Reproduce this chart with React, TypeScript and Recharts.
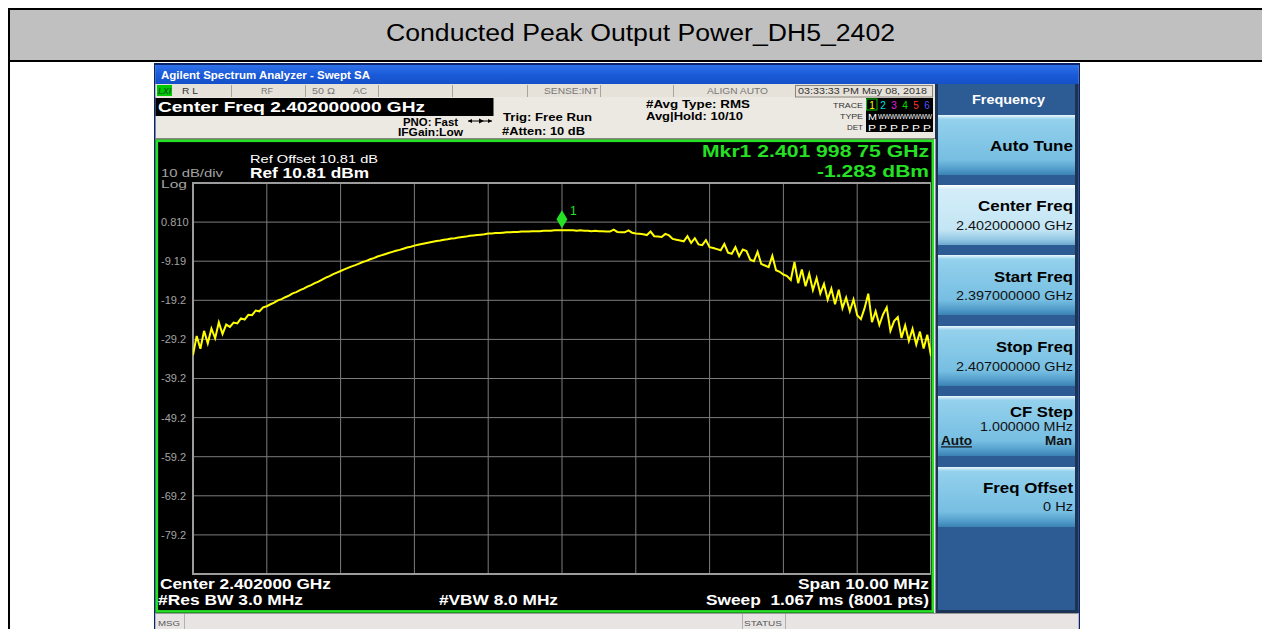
import React from 'react';
import { LineChart, Line, XAxis, YAxis, CartesianGrid, ReferenceDot, ReferenceArea } from 'recharts';

const TITLE = 'Conducted Peak Output Power_DH5_2402';
const START_MHZ = 2397;
const STEP_MHZ = 0.05;
const STOP_MHZ = 2407;

// Trace 1 (dBm), one value per 0.05 MHz from 2397 to 2407 MHz
const traceDbm = [
  -33.2, -28.3, -31.6, -27.0, -30.2, -26.4, -28.9, -24.8, -27.8, -25.4,
  -26.0, -24.9, -25.1, -23.8, -24.1, -22.9, -23.0, -21.8, -22.0, -21.0,
  -20.7, -20.2, -19.8, -19.2, -18.9, -18.4, -18.0, -17.4, -17.1, -16.6,
  -16.2, -15.7, -15.3, -14.8, -14.4, -13.9, -13.4, -13.0, -12.5, -12.1,
  -11.7, -11.3, -10.9, -10.5, -10.2, -9.8, -9.4, -9.1, -8.7, -8.4,
  -8.0, -7.7, -7.4, -7.1, -6.8, -6.5, -6.3, -6.0, -5.7, -5.5,
  -5.2, -5.0, -4.8, -4.6, -4.4, -4.2, -4.0, -3.9, -3.7, -3.6,
  -3.4, -3.3, -3.1, -3.0, -2.9, -2.7, -2.6, -2.5, -2.4, -2.3,
  -2.1, -2.1, -2.0, -2.0, -1.9, -1.8, -1.8, -1.7, -1.7, -1.6,
  -1.6, -1.6, -1.5, -1.5, -1.5, -1.4, -1.4, -1.4, -1.3, -1.3,
  -1.3,
  -1.3, -1.3, -1.3, -1.4, -1.3, -1.4, -1.4, -1.5, -1.4, -1.5,
  -1.5, -1.6, -1.6, -1.1, -1.7, -1.8, -1.8, -1.3, -1.9, -2.1,
  -2.2, -2.3, -2.5, -1.6, -2.8, -2.9, -3.0, -2.2, -2.6, -3.5,
  -3.7, -3.9, -4.1, -2.8, -4.5, -3.3, -4.9, -5.1, -3.8, -5.6,
  -5.8, -6.1, -6.4, -4.8, -7.0, -7.3, -5.6, -7.9, -6.2, -6.6,
  -8.8, -9.2, -6.8, -9.9, -10.3, -10.7, -7.8, -11.5, -11.9, -12.6,
  -13.0, -14.0, -9.4, -14.8, -11.3, -15.6, -12.4, -16.6, -13.5, -17.5,
  -15.0, -19.0, -16.2, -20.2, -16.5, -21.2, -18.5, -22.0, -19.0, -23.0,
  -24.0, -21.2, -17.5, -24.8, -22.0, -25.5, -22.8, -21.0, -27.0, -24.5,
  -23.5, -28.8, -25.6, -29.6, -26.5, -30.5, -27.2, -31.5, -28.0, -33.5,
];

const xTicks = [2397, 2398, 2399, 2400, 2401, 2402, 2403, 2404, 2405, 2406, 2407];
const yTicks = [10.81, 0.81, -9.19, -19.19, -29.19, -39.19, -49.19, -59.19, -69.19, -79.19, -89.19];
const yTickLabels = ['', '0.810', '-9.19', '-19.2', '-29.2', '-39.2', '-49.2', '-59.2', '-69.2', '-79.2', ''];
const markerFreq = 2401.99875;
const markerDbm = -1.283;

const chartData = traceDbm.map((v, i) => ({ f: +(START_MHZ + i * STEP_MHZ).toFixed(2), v }));

const FONT = "'Liberation Sans', Arial, sans-serif";
const GREEN = '#25e025';

function Tx(p: any) {
  const { x, y, s, w, c = '#000', b = false, it = false, u = false, children } = p;
  return (
    <text
      x={x}
      y={y}
      fontSize={s}
      textLength={w}
      lengthAdjust="spacingAndGlyphs"
      fill={c}
      fontWeight={b ? 700 : 400}
      fontStyle={it ? 'italic' : 'normal'}
      textDecoration={u ? 'underline' : undefined}
      fontFamily={FONT}
      style={{ whiteSpace: 'pre' }}
    >
      {children}
    </text>
  );
}

function renderYTick(props: any) {
  const { y, payload } = props;
  const idx = yTicks.findIndex((t) => Math.abs(t - payload.value) < 0.001);
  const label = idx >= 0 ? yTickLabels[idx] : '';
  return (
    <text x={4} y={y + 3.9} fill="#a4a4a4" fontSize={11} fontFamily={FONT}>
      {label}
    </text>
  );
}

function MarkerShape(props: any) {
  const { cx, cy } = props;
  return (
    <g>
      <polygon
        points={`${cx},${cy - 20} ${cx + 5.5},${cy - 11} ${cx},${cy - 2} ${cx - 5.5},${cy - 11}`}
        fill={GREEN}
      />
      <text x={cx + 8} y={cy - 15} fill={GREEN} fontSize={12} fontFamily={FONT}>
        1
      </text>
    </g>
  );
}

function Button({ y, label, value, sel, extra }: any) {
  return (
    <g>
      <rect x={938} y={y} width={137} height={60} fill={sel ? 'url(#btnSel)' : 'url(#btn)'} />
      {label}
      {value}
      {extra}
    </g>
  );
}

export default function App() {
  return (
    <div style={{ position: 'absolute', left: 0, top: 0, width: 1262, height: 629, background: '#fff', overflow: 'hidden' }}>
      <svg width={1262} height={629} style={{ position: 'absolute', left: 0, top: 0 }}>
        <defs>
          <linearGradient id="tb" x1="0" y1="0" x2="0" y2="1">
            <stop offset="0" stopColor="#2f72ea" />
            <stop offset="0.5" stopColor="#1b5bd9" />
            <stop offset="1" stopColor="#1450c8" />
          </linearGradient>
          <linearGradient id="btn" x1="0" y1="0" x2="0" y2="1">
            <stop offset="0" stopColor="#eaf7fc" />
            <stop offset="0.07" stopColor="#94d1ec" />
            <stop offset="0.75" stopColor="#76bee2" />
            <stop offset="0.9" stopColor="#529dcb" />
            <stop offset="1" stopColor="#3a82b4" />
          </linearGradient>
          <linearGradient id="btnSel" x1="0" y1="0" x2="0" y2="1">
            <stop offset="0" stopColor="#ffffff" />
            <stop offset="0.07" stopColor="#d4eef9" />
            <stop offset="0.75" stopColor="#c3e5f4" />
            <stop offset="0.9" stopColor="#96cae5" />
            <stop offset="1" stopColor="#6ea9cf" />
          </linearGradient>
        </defs>

        {/* page table frame */}
        <rect x={8} y={8} width={1254} height={2} fill="#000" />
        <rect x={8} y={8} width={2} height={621} fill="#000" />
        <rect x={10} y={10} width={1252} height={50} fill="#c0c0c0" />
        <rect x={10} y={60} width={1252} height={2} fill="#000" />
        <Tx x={386} y={41} s={23.5} w={509}>{TITLE}</Tx>

        {/* analyzer window */}
        <rect x={154} y={63} width={926} height={566} fill="#ece9e2" />
        <rect x={154} y={63} width={926} height={2} fill="#0a246a" />
        <rect x={154} y={63} width={1.5} height={566} fill="#0a246a" />
        <rect x={1078.5} y={63} width={1.5} height={566} fill="#0a246a" />
        <rect x={155.5} y={65} width={923} height={19} fill="url(#tb)" />
        <Tx x={161} y={79.3} s={10.5} w={209} c="#fff" b>Agilent Spectrum Analyzer - Swept SA</Tx>

        {/* status row */}
        <rect x={155.5} y={84} width={780} height={13} fill="#e6e2da" />
        <rect x={157} y={85} width={15} height={11} fill="#00c800" />
        <Tx x={158} y={94} s={8.5} w={13} c="#062" b it>LXI</Tx>
        <Tx x={182} y={94} s={9} w={16} c="#333">R L</Tx>
        <Tx x={261} y={94} s={9} w={12} c="#777">RF</Tx>
        <Tx x={312} y={94} s={9} w={23} c="#777">50 Ω</Tx>
        <Tx x={353} y={94} s={9} w={14} c="#777">AC</Tx>
        <Tx x={544} y={94} s={9} w={54} c="#777">SENSE:INT</Tx>
        <Tx x={707} y={94} s={9} w={61} c="#777">ALIGN AUTO</Tx>
        <Tx x={798} y={94} s={9} w={129} c="#333">03:33:33 PM May 08, 2018</Tx>
        {[231, 305, 378, 452, 527, 600, 673, 795].map((sx) => (
          <rect key={sx} x={sx} y={85} width={1} height={12} fill="#aaa49a" />
        ))}
        <rect x={795.5} y={85.5} width={137} height={11.5} fill="none" stroke="#8a857c" strokeWidth={1} />

        {/* header info */}
        <rect x={155.5} y={98} width={338} height={18} fill="#000" />
        <Tx x={158} y={112} s={15} w={267} c="#fff" b>Center Freq 2.402000000 GHz</Tx>
        <Tx x={403} y={125.5} s={10} w={55} b>PNO: Fast</Tx>
        <Tx x={398} y={136} s={10} w={65} b>IFGain:Low</Tx>
        <line x1={468} y1={121} x2={492} y2={121} stroke="#000" strokeWidth={1} />
        <polygon points="468,121 472,119 472,123" fill="#000" />
        <polygon points="492,121 488,119 488,123" fill="#000" />
        <polygon points="479,118.5 484,121 479,123.5" fill="#000" />
        <Tx x={503} y={121} s={11} w={89} b>Trig: Free Run</Tx>
        <Tx x={502} y={135.3} s={11} w={83} b>#Atten: 10 dB</Tx>
        <Tx x={646} y={108} s={11} w={104} b>#Avg Type: RMS</Tx>
        <Tx x={646} y={120.3} s={11} w={97} b>Avg|Hold: 10/10</Tx>
        <Tx x={833} y={107.5} s={8} w={30} c="#333">TRACE</Tx>
        <Tx x={840} y={118.7} s={8} w={23} c="#333">TYPE</Tx>
        <Tx x={847} y={130} s={8} w={16} c="#333">DET</Tx>
        <rect x={866} y={98} width={67} height={34} fill="#000" />
        <rect x={866.5} y={99} width={10.5} height={11} fill="none" stroke="#00c000" strokeWidth={1} />
        {['#ffff00', '#00e0e0', '#e020e0', '#00e000', '#ff3030', '#5050ff'].map((col, k) => (
          <text key={k} x={872 + k * 11} y={108.5} fill={col} fontSize={10} fontFamily={FONT} textAnchor="middle">
            {k + 1}
          </text>
        ))}
        <Tx x={868} y={119.5} s={9} w={9} c="#fff">M</Tx>
        <Tx x={878} y={118.5} s={7} w={54} c="#fff">WWWWWWWWW</Tx>
        <Tx x={868} y={130.5} s={9} w={63} c="#fff">P P P P P P</Tx>
        <rect x={155.5} y={138} width={780} height={1} fill="#8a857c" />

        {/* green framed screen */}
        <rect x={155.5} y={139.5} width={779} height={473.5} fill="#000" />
        <rect x={156.8} y={140.8} width={776} height={470.6} fill="none" stroke={GREEN} strokeWidth={2.6} />
        <Tx x={250} y={163.3} s={11.5} w={128} c="#fff">Ref Offset 10.81 dB</Tx>
        <Tx x={250} y={177.7} s={14} w={119} c="#fff" b>Ref 10.81 dBm</Tx>
        <Tx x={161} y={177} s={11} w={62} c="#a4a4a4">10 dB/div</Tx>
        <Tx x={161} y={187.5} s={10} w={26} c="#a4a4a4">Log</Tx>
        <Tx x={702} y={157.3} s={16.5} w={227} c={GREEN} b>Mkr1 2.401 998 75 GHz</Tx>
        <Tx x={817} y={176.5} s={16.5} w={112} c={GREEN} b>-1.283 dBm</Tx>
        <Tx x={160} y={589.3} s={14} w={171} c="#fff" b>Center 2.402000 GHz</Tx>
        <Tx x={158} y={605.3} s={14} w={145} c="#fff" b>#Res BW 3.0 MHz</Tx>
        <Tx x={439} y={605.3} s={14} w={119} c="#fff" b>#VBW 8.0 MHz</Tx>
        <Tx x={798} y={589.3} s={14} w={131} c="#fff" b>Span 10.00 MHz</Tx>
        <Tx x={706} y={605.3} s={14} w={223} c="#fff" b>Sweep  1.067 ms (8001 pts)</Tx>

        {/* bottom status bar */}
        <rect x={155.5} y={613} width={923} height={16} fill="#e8e4e4" />
        <rect x={155.5} y={613} width={923} height={1} fill="#9a9a9a" />
        <rect x={184} y={614} width={1} height={15} fill="#b0b0b0" />
        <rect x={742} y={614} width={1} height={15} fill="#b0b0b0" />
        <rect x={785} y={614} width={1} height={15} fill="#b0b0b0" />
        <Tx x={158} y={626} s={8} w={22} c="#555">MSG</Tx>
        <Tx x={744} y={626} s={8} w={38} c="#555">STATUS</Tx>

        {/* right soft-key panel */}
        <rect x={935} y={84} width={143.5} height={529} fill="#2d5b93" />
        <rect x={935} y={84} width={3} height={529} fill="#1b3456" />
        <rect x={1075} y={84} width={3.5} height={529} fill="#1b3456" />
        <rect x={935} y={610} width={143.5} height={3} fill="#1b3456" />
        <rect x={934} y={139} width={1.5} height={474} fill="#ece9e2" />
        <Tx x={972} y={103.7} s={12.5} w={73} c="#fff" b>Frequency</Tx>
        <Button y={115} label={<Tx x={990} y={150.7} s={15} w={83} b>Auto Tune</Tx>} />
        <Button
          y={185}
          sel
          label={<Tx x={978} y={211} s={15} w={95} b>Center Freq</Tx>}
          value={<Tx x={956} y={230} s={12} w={117} c="#111">2.402000000 GHz</Tx>}
        />
        <Button
          y={255}
          label={<Tx x={994} y={281.7} s={15} w={79} b>Start Freq</Tx>}
          value={<Tx x={956} y={300} s={12} w={117} c="#111">2.397000000 GHz</Tx>}
        />
        <Button
          y={326}
          label={<Tx x={996} y={352.3} s={15} w={77} b>Stop Freq</Tx>}
          value={<Tx x={956} y={370.7} s={12} w={117} c="#111">2.407000000 GHz</Tx>}
        />
        <Button
          y={396}
          label={<Tx x={1010} y={416.7} s={15} w={63} b>CF Step</Tx>}
          value={<Tx x={980} y={431} s={12} w={93} c="#111">1.000000 MHz</Tx>}
          extra={
            <g>
              <Tx x={941} y={445.3} s={12} w={31} c="#111" b u>Auto</Tx>
              <Tx x={1045} y={445.3} s={12} w={27} c="#111" b>Man</Tx>
            </g>
          }
        />
        <Button
          y={467}
          label={<Tx x={983} y={493} s={15} w={90} b>Freq Offset</Tx>}
          value={<Tx x={1043} y={511} s={12} w={30} c="#111">0 Hz</Tx>}
        />
      </svg>

      <div style={{ position: 'absolute', left: 157, top: 178 }}>
        <LineChart width={774} height={401} data={chartData} margin={{ top: 5, right: 0, bottom: 5, left: 0 }}>
          <CartesianGrid stroke="#7c7c7c" strokeWidth={1} />
          <XAxis dataKey="f" type="number" domain={[START_MHZ, STOP_MHZ]} ticks={xTicks} hide allowDataOverflow />
          <YAxis
            type="number"
            domain={[yTicks[yTicks.length - 1], yTicks[0]]}
            ticks={yTicks}
            interval={0}
            width={36}
            axisLine={false}
            tickLine={false}
            tick={renderYTick}
            allowDataOverflow
          />
          <ReferenceArea
            x1={START_MHZ}
            x2={STOP_MHZ}
            y1={yTicks[yTicks.length - 1]}
            y2={yTicks[0]}
            fill="none"
            stroke="#9c9c9c"
            strokeWidth={2}
            ifOverflow="visible"
          />
          <Line dataKey="v" type="linear" stroke="#ffff00" strokeWidth={2} dot={false} isAnimationActive={false} />
          <ReferenceDot x={markerFreq} y={markerDbm} r={0} shape={MarkerShape} ifOverflow="visible" />
        </LineChart>
      </div>
    </div>
  );
}
